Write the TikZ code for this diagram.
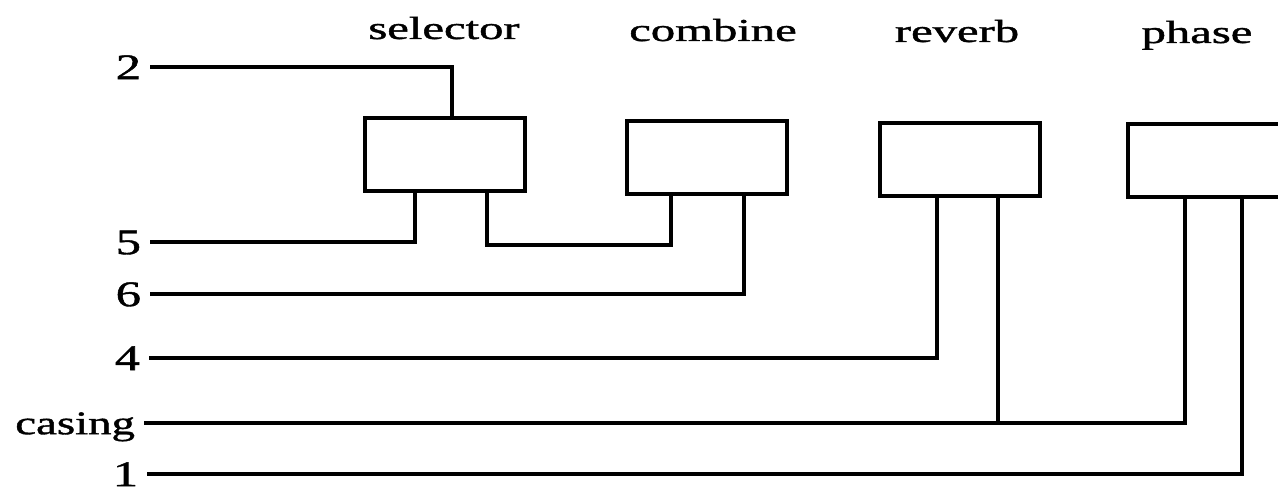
\documentclass[tikz,border=0pt]{standalone}
\usepackage{graphicx}
\usepackage{fontspec}
\setmainfont{Liberation Serif}
\newfontfamily\labfont[BoldFont={Liberation Serif}, BoldFeatures={FakeBold=1.1}]{Liberation Serif}
\newcommand{\wlab}[2][1.4]{\scalebox{#1}[1]{#2}}
\tikzset{
  wire/.style={line width=3.3pt},
  blk/.style={draw, line width=3.3pt, minimum width=160pt, minimum height=73pt, inner sep=0pt, outer sep=0pt, anchor=north west},
  toplab/.style={font=\fontsize{32}{38}\labfont\bfseries, anchor=base, inner sep=0pt},
  leftlab/.style={font=\fontsize{36}{42}\labfont\bfseries, anchor=east, inner xsep=9pt, inner ysep=0pt, outer sep=0pt, text height=24.3pt, text depth=0pt},
  caslab/.style={leftlab, font=\fontsize{33}{40}\labfont\bfseries, text height=22.4pt}
}
\begin{document}
\begin{tikzpicture}[x=1pt,y=-1pt]
\useasboundingbox (0,0) rectangle (1278,489);
\clip (0,0) rectangle (1278,489);
\fill[white] (0,0) rectangle (1278,489);
% boxes
\node[blk] (sel) at (365,118) {};
\node[blk] (comb) at (627,121) {};
\node[blk] (rev) at (880,123) {};
\node[blk] (ph) at (1128,124) {};
% top labels
\node[toplab] (tsel) at (444,39) {\wlab[1.52]{selector}};
\node[toplab] (tcomb) at (713,41) {\wlab[1.52]{combine}};
\node[toplab] (trev) at (957,42) {\wlab[1.52]{reverb}};
\node[toplab] (tph) at (1197,43) {\wlab[1.52]{phase}};
% left labels
\node[leftlab] (l2) at (150,67) {\wlab{2}};
\node[leftlab] (l5) at (150,242) {\wlab{5}};
\node[leftlab] (l6) at (150,294) {\wlab{6}};
\node[leftlab] (l4) at (149,358) {\wlab{4}};
\node[caslab] (lc) at (144,423) {\wlab[1.42]{casing}};
\node[leftlab] (l1) at (147,474) {\wlab{1}};
% connectors
\draw[wire] (l2.east) -| ([xshift=87]sel.north west);
\draw[wire] (l5.east) -| ([xshift=50]sel.south west);
\draw[wire] ([xshift=122]sel.south west) -- ++(0,54) -| ([xshift=44]comb.south west);
\draw[wire] (l6.east) -| ([xshift=117]comb.south west);
\draw[wire] (l4.east) -| ([xshift=57]rev.south west);
\draw[wire] (lc.east) -| ([xshift=57]ph.south west);
\draw[wire] ([xshift=118]rev.south west) |- (lc.east);
\draw[wire] (l1.east) -| ([xshift=114]ph.south west);
\end{tikzpicture}
\end{document}
